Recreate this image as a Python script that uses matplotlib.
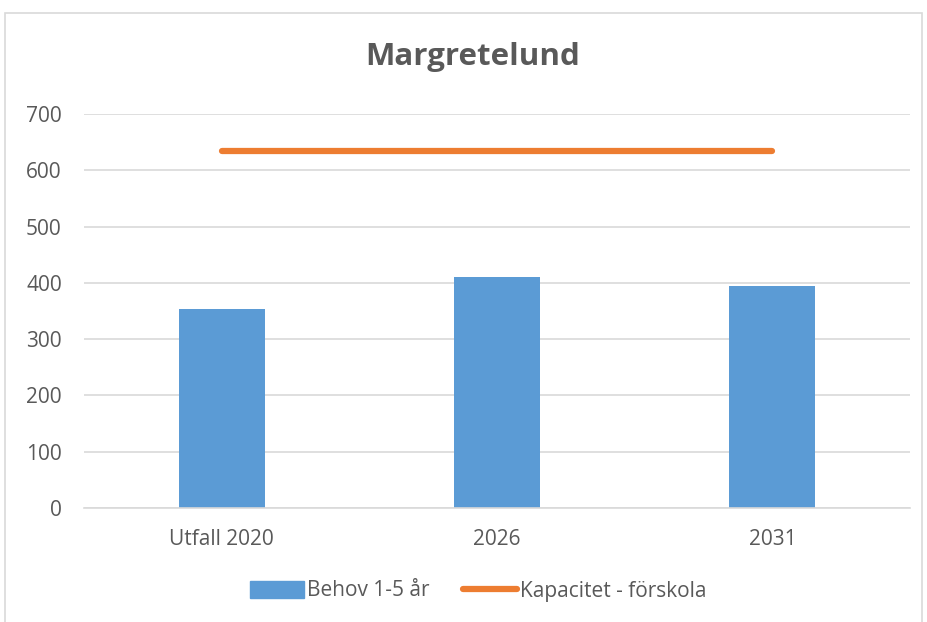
import matplotlib.pyplot as plt
from matplotlib.patches import Rectangle
from matplotlib.lines import Line2D

# data
categories = ["Utfall 2020", "2026", "2031"]
behov = [353, 410, 395]
kapacitet = [634, 634, 634]

plt.rcParams['font.family'] = ['Open Sans', 'DejaVu Sans']
txt = '#595959'
blue = '#5b9bd5'
orange = '#ed7d31'

fig = plt.figure(figsize=(9.27, 6.22), dpi=100)
W, H = 927, 622

# outer chart border
fig.patches.append(Rectangle((5 / W, -0.05), 917 / W, 1 - 13 / H + 0.05,
                             transform=fig.transFigure, fill=False,
                             edgecolor='#d9d9d9', linewidth=1.2))

ax = fig.add_axes([84 / W, 1 - 508 / H, 826 / W, 394 / H])
x = range(len(categories))
ax.bar(x, behov, width=0.313, color=blue, zorder=2)
ax.plot(x, kapacitet, color=orange, linewidth=4.5, solid_capstyle='round', zorder=3)

ax.set_xlim(-0.5, 2.5)
ax.set_ylim(0, 700)
ax.set_yticks(range(0, 701, 100))
ax.set_xticks(list(x))
ax.set_xticklabels(categories)
ax.tick_params(axis='both', length=0, labelsize=15, colors=txt)
ax.tick_params(axis='x', pad=15)
ax.tick_params(axis='y', pad=16)
ax.grid(axis='y', color='#d9d9d9', linewidth=1.2, zorder=0)
for s in ['top', 'right', 'left']:
    ax.spines[s].set_visible(False)
ax.spines['bottom'].set_color('#d9d9d9')
ax.spines['bottom'].set_linewidth(1.2)

fig.text(473 / W, 1 - 57 / H, "Margretelund", ha='center', va='center',
         fontsize=22.5, fontweight='bold', color=txt)

handles = [Rectangle((0, 0), 1, 1, color=blue),
           Line2D([], [], color=orange, linewidth=4.5, solid_capstyle='round')]
fig.legend(handles, ["Behov 1-5 år", "Kapacitet - förskola"],
           loc='center', bbox_to_anchor=(478 / W, 1 - 591 / H), ncol=2,
           frameon=False, fontsize=15, labelcolor=txt, handlelength=2.6,
           handleheight=0.85, handletextpad=0.15, columnspacing=1.6)

fig.savefig("out.png", dpi=100)
